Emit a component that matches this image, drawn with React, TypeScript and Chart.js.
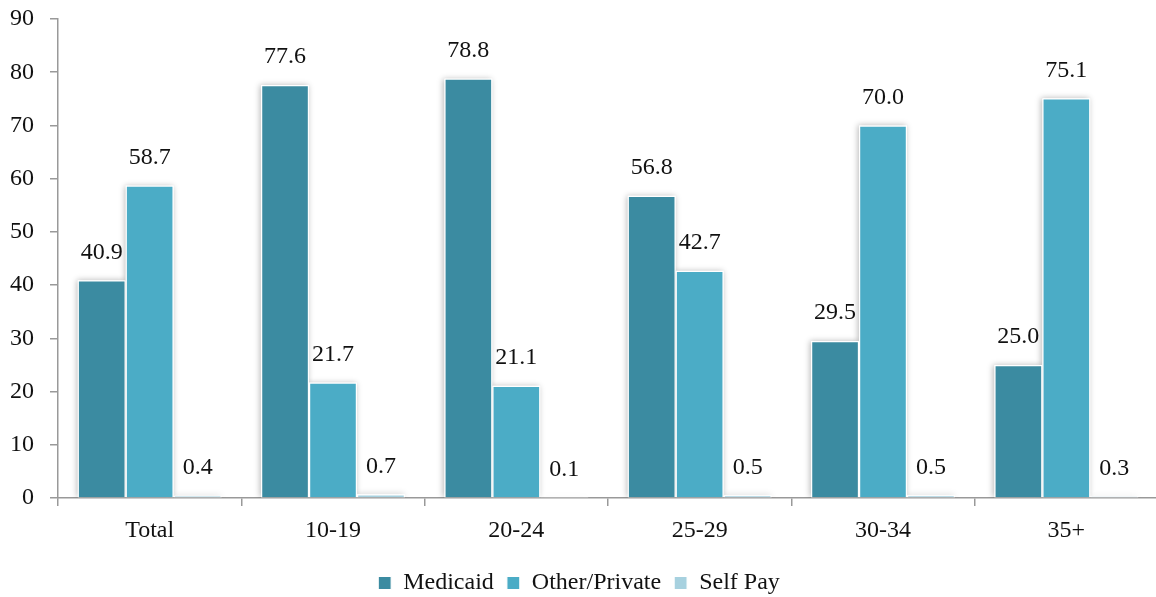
import React, { useEffect, useRef } from 'react';
import { Chart, registerables } from 'chart.js';

Chart.register(...registerables);

const categories = ['Total', '10-19', '20-24', '25-29', '30-34', '35+'];
const medicaid = [40.9, 77.6, 78.8, 56.8, 29.5, 25.0];
const otherPrivate = [58.7, 21.7, 21.1, 42.7, 70.0, 75.1];
const selfPay = [0.4, 0.7, 0.1, 0.5, 0.5, 0.3];
const seriesNames = ['Medicaid', 'Other/Private', 'Self Pay'];
const yMin = 0;
const yMax = 90;
const yStep = 10;

const FONT = '"Liberation Serif", "Times New Roman", serif';

const shadowPlugin = {
  id: 'barShadow',
  beforeDatasetsDraw(chart: any) {
    const ctx = chart.ctx;
    const area = chart.chartArea;
    ctx.save();
    ctx.beginPath();
    ctx.rect(0, 0, chart.width, area.bottom);
    ctx.clip();
    ctx.shadowColor = 'rgba(0,0,0,0.28)';
    ctx.shadowBlur = 6;
    ctx.shadowOffsetX = -1;
    ctx.fillStyle = '#ffffff';
    chart.data.datasets.forEach((_ds: any, i: number) => {
      const meta = chart.getDatasetMeta(i);
      meta.data.forEach((bar: any) => {
        const p = bar.getProps(['x', 'y', 'base', 'width'], true);
        ctx.fillRect(p.x - p.width / 2, p.y, p.width, p.base - p.y);
      });
    });
    ctx.restore();
  },
};

const labelPlugin = {
  id: 'valueLabels',
  afterDatasetsDraw(chart: any) {
    const ctx = chart.ctx;
    ctx.save();
    ctx.font = `24px ${FONT}`;
    ctx.fillStyle = '#111111';
    ctx.textAlign = 'center';
    ctx.textBaseline = 'middle';
    chart.data.datasets.forEach((ds: any, i: number) => {
      const meta = chart.getDatasetMeta(i);
      meta.data.forEach((bar: any, j: number) => {
        const p = bar.getProps(['x', 'y'], true);
        ctx.fillText(Number(ds.data[j]).toFixed(1), p.x, p.y - 28);
      });
    });
    ctx.restore();
  },
};

export default function App() {
  const ref = useRef<HTMLCanvasElement | null>(null);

  useEffect(() => {
    if (!ref.current) return;
    const chart = new Chart(ref.current, {
      type: 'bar',
      data: {
        labels: categories,
        datasets: [
          {
            label: seriesNames[0],
            data: medicaid,
            backgroundColor: '#3B8BA1',
            borderColor: '#ffffff',
            borderWidth: 1.2,
          },
          {
            label: seriesNames[1],
            data: otherPrivate,
            backgroundColor: '#4BACC6',
            borderColor: '#ffffff',
            borderWidth: 1.2,
          },
          {
            label: seriesNames[2],
            data: selfPay,
            backgroundColor: '#A7D1DF',
            borderColor: '#ffffff',
            borderWidth: 1.2,
          },
        ],
      },
      options: {
        responsive: false,
        animation: false,
        devicePixelRatio: 1,
        layout: { padding: { top: 19, right: 2, left: 0, bottom: -8 } },
        datasets: {
          bar: { categoryPercentage: 0.785, barPercentage: 1 },
        },
        scales: {
          x: {
            afterFit: (s: any) => {
              s.height = 60;
            },
            grid: {
              display: true,
              drawOnChartArea: false,
              drawTicks: true,
              tickLength: 8,
              color: '#999999',
              lineWidth: 1.5,
            },
            border: { color: '#999999', width: 1.5 },
            ticks: {
              font: { family: FONT, size: 24 },
              color: '#111111',
              padding: 10,
            },
          },
          y: {
            min: yMin,
            max: yMax,
            afterFit: (s: any) => {
              s.width = 58;
              s.paddingTop = 0;
              s.paddingBottom = 0;
            },
            grid: {
              display: true,
              drawOnChartArea: false,
              drawTicks: true,
              tickLength: 8,
              color: '#999999',
              lineWidth: 1.5,
            },
            border: { color: '#999999', width: 1.5 },
            ticks: {
              stepSize: yStep,
              font: { family: FONT, size: 24 },
              color: '#111111',
              padding: 16,
            },
          },
        },
        plugins: {
          legend: {
            position: 'bottom',
            labels: {
              boxWidth: 13,
              boxHeight: 13,
              padding: 13,
              color: '#111111',
              font: { family: FONT, size: 24 },
            },
          },
          tooltip: { enabled: false },
        },
      },
      plugins: [shadowPlugin, labelPlugin],
    });
    return () => chart.destroy();
  }, []);

  return (
    <div
      style={{
        position: 'fixed',
        left: 0,
        top: 0,
        width: 1156,
        height: 597,
        overflow: 'hidden',
        background: '#ffffff',
      }}
    >
      <canvas ref={ref} width={1160} height={597} style={{ display: 'block' }} />
    </div>
  );
}
